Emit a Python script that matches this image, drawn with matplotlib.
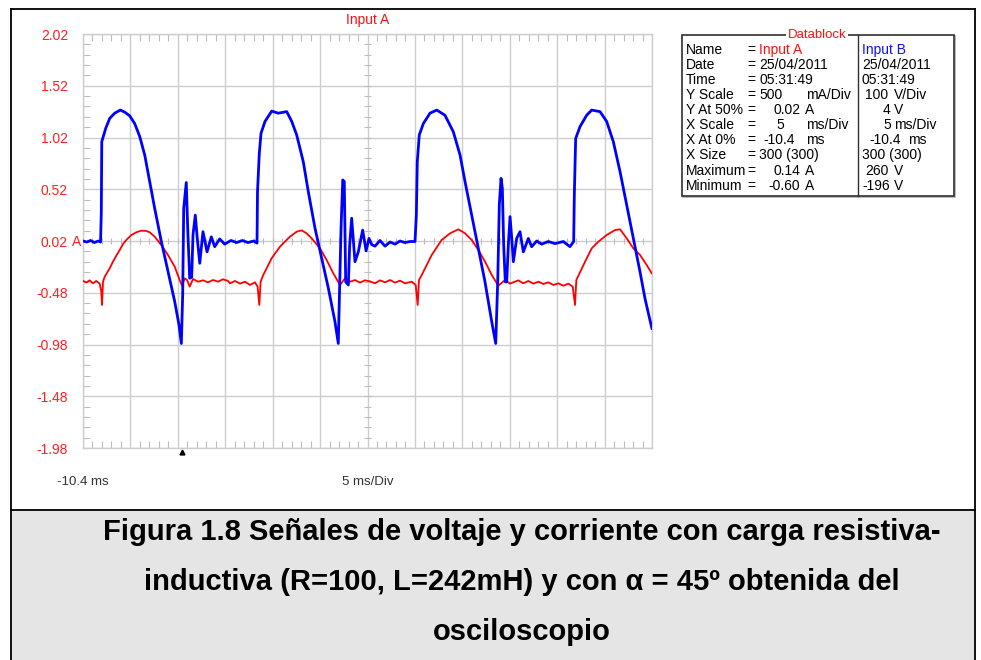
import matplotlib
matplotlib.use("Agg")
import matplotlib.pyplot as plt
from matplotlib.patches import Rectangle
import numpy as np

W, H, DPI = 981, 660, 100
plt.rcParams['font.family'] = ['Liberation Sans', 'DejaVu Sans']

# Input B : voltage (V), time in ms
volt_t = [-10.4, -10.0, -9.6, -9.2, -8.8, -8.55, -8.47, -8.42, -8.2, -8.0, -7.58, -7.06, -6.47, -6.0,
          -5.48, -4.95, -4.42, -3.89, -3.37, -2.84, -2.14, -1.44, -0.73, -0.28, -0.03, 0.11, 0.22,
          0.49, 0.64, 0.85, 1.06, 1.2, 1.44, 1.65, 1.91, 2.25, 2.68, 3.13, 3.49, 4.01, 4.54, 5.2,
          5.8, 6.4, 7.0, 7.6, 7.95, 8.0, 8.19, 8.37, 8.79, 9.5, 10.19, 11.08, 11.61, 12.13, 12.83,
          13.36, 14.06, 14.77, 15.47, 16.17, 16.52, 16.81, 16.99, 17.15, 17.3, 17.58, 17.72, 17.93,
          18.28, 18.63, 19.09, 19.45, 19.76, 20.05, 20.39, 20.92, 21.45, 21.97, 22.5, 23.03, 23.55,
          24.1, 24.61, 24.75, 24.85, 25.06, 25.49, 26.19, 26.9, 27.77, 28.65, 29.36, 29.88, 30.59,
          31.28, 31.99, 32.7, 33.12, 33.33, 33.5, 33.68, 33.82, 33.96, 34.13, 34.28, 34.45, 34.63,
          34.81, 34.98, 35.33, 35.68, 36.03, 36.56, 36.91, 37.44, 37.97, 38.66, 39.37, 40.25, 40.95,
          41.34, 41.41, 41.55, 42.01, 42.71, 43.24, 44.12, 44.82, 45.52, 46.23, 46.93, 47.63, 48.33,
          48.86, 49.46, 49.6]
volt_v = [4, 2, 5, 1, 4, 2, 60, 196, 210, 222, 241, 251, 257, 253,
          246, 231, 206, 170, 119, 67, 3, -55, -113, -158, -194, -100, 67,
          117, 29, -68, -66, 16, 54, 9, -39, 22, -17, 12, -7, 8, -2, 5,
          1, 5, 1, 4, 0, 99, 173, 212, 235, 255, 251, 254, 235, 209, 157,
          99, 29, -29, -87, -152, -194, 29, 122, 119, -75, -81, -4, 48,
          -36, -17, 25, -15, 9, -3, -6, 5, -6, 2, -2, 4, 1,
          3, 3, 54, 157, 209, 231, 251, 257, 247, 215, 170, 119, 54,
          -10, -75, -152, -194, -75, 74, 125, 106, -4, -75, -75, -4, 51,
          9, -36, 9, 22, -17, 9, -7, 4, -2, 3, -1, 3, -7,
          3, 93, 202, 225, 247, 257, 254, 235, 196, 138, 74, 9, -55,
          -107, -155, -165]

# Input A : current (A), time in ms
curr_t = [-10.4, -10.05, -9.7, -9.35, -9.0, -8.64, -8.47, -8.4, -8.29, -8.11, -7.59, -7.24, -6.89,
          -6.53, -6.18, -5.83, -5.3, -4.78, -4.25, -3.72, -3.37, -2.84, -2.14, -1.44, -0.73, -0.21,
          0.04, 0.32, 0.57, 0.85, 1.2, 1.73, 2.25, 2.78, 3.31, 3.84, 4.36, 4.89, 5.1, 5.62, 6.15,
          6.68, 7.21, 7.73, 8.01, 8.19, 8.33, 8.61, 9.49, 10.37, 11.42, 12.13, 12.65, 13.18, 13.71,
          14.59, 15.29, 15.99, 16.7, 17.22, 17.75, 18.28, 18.81, 19.33, 19.86, 20.39, 20.92, 21.45,
          21.98, 22.5, 23.03, 23.56, 24.26, 24.68, 24.89, 25.03, 25.32, 26.37, 27.42, 28.3, 29.18,
          29.89, 30.59, 31.29, 32.0, 32.7, 33.4, 34.1, 34.63, 34.98, 35.51, 36.03, 36.56, 37.09,
          37.62, 38.14, 38.67, 39.2, 39.72, 40.25, 40.78, 41.24, 41.48, 41.62, 42.54, 43.24, 43.94,
          44.82, 45.7, 46.23, 46.93, 47.63, 48.34, 49.04, 49.57]
curr_a = [-0.366, -0.380, -0.360, -0.389, -0.366, -0.392, -0.470, -0.598, -0.373, -0.325, -0.244, -0.180, -0.122,
          -0.067, -0.009, 0.030, 0.078, 0.104, 0.120, 0.117, 0.104, 0.062, -0.019, -0.115, -0.228, -0.357,
          -0.412, -0.341, -0.357, -0.421, -0.347, -0.373, -0.360, -0.379, -0.357, -0.373, -0.350, -0.366, -0.389, -0.366, -0.392,
          -0.373, -0.405, -0.379, -0.421, -0.598, -0.373, -0.308, -0.147, -0.035, 0.062, 0.110, 0.123, 0.094, 0.046,
          -0.051, -0.164, -0.292, -0.405, -0.341, -0.373, -0.357, -0.382, -0.360, -0.370, -0.389, -0.360, -0.379,
          -0.357, -0.382, -0.363, -0.389, -0.373, -0.405, -0.598, -0.357, -0.308, -0.115, 0.030, 0.094, 0.133,
          0.094, 0.030, -0.067, -0.180, -0.308, -0.412, -0.357, -0.392, -0.379, -0.360, -0.389, -0.366, -0.392,
          -0.373, -0.395, -0.379, -0.405, -0.389, -0.412, -0.392, -0.421, -0.598, -0.357, -0.180, -0.051, 0.013,
          0.078, 0.126, 0.133, 0.046, -0.051, -0.115, -0.212, -0.292]

# scope settings
x_at_0 = -10.4        # ms
x_scale = 5           # ms/Div
x_divs = 12
a_scale = 0.5         # A/Div
a_at_50 = 0.02        # A
b_scale = 100         # V/Div
b_at_50 = 4           # V
y_divs = 8
trigger_t = 0.0

# datablock
db_labels = ["Name", "Date", "Time", "Y Scale", "Y At 50%", "X Scale", "X At 0%", "X Size", "Maximum", "Minimum"]
db_a_values = ["Input A", "25/04/2011", "05:31:49", "500", "0.02", "5", "-10.4", "300 (300)", "0.14", "-0.60"]
db_a_units = ["", "", "", "mA/Div", "A", "ms/Div", "ms", "", "A", "A"]
db_b_values = ["Input B", "25/04/2011", "05:31:49", "100", "4", "5", "-10.4", "300 (300)", "260", "-196"]
db_b_units = ["", "", "", "V/Div", "V", "ms/Div", "ms", "", "V", "V"]

caption_lines = ["Figura 1.8 Señales de voltaje y corriente con carga resistiva-",
                 "inductiva (R=100, L=242mH) y con α = 45º obtenida del",
                 "osciloscopio"]

# ---------------- layout ----------------
fig = plt.figure(figsize=(W / DPI, H / DPI), dpi=DPI)
bg = fig.add_axes([0, 0, 1, 1], zorder=0)
bg.set_xlim(0, W)
bg.set_ylim(H, 0)
bg.axis('off')

# outer frame and caption box
bg.add_patch(Rectangle((11, 510), 964, 160, facecolor='#e5e5e5', edgecolor='none'))
for xs, ys in [([11, 11], [9, 660]), ([975, 975], [9, 660]), ([11, 975], [9, 9]), ([11, 975], [510, 510])]:
    bg.plot(xs, ys, color='black', lw=1.3, solid_capstyle='projecting')

for i, line in enumerate(caption_lines):
    bg.text(522, 532 + 50 * i, line, ha='center', va='center', fontsize=21,
            fontweight='bold', color='black')

# datablock
bx0, by0, bx1, by1 = 681.5, 34.5, 953.5, 195.5
bg.add_patch(Rectangle((bx0 + 1.5, by0 + 1.5), bx1 - bx0, by1 - by0, facecolor='none',
                       edgecolor='#b0b0b0', lw=1.2))
bg.add_patch(Rectangle((bx0, by0), bx1 - bx0, by1 - by0, facecolor='white',
                       edgecolor='#303030', lw=1.2))
bg.plot([857.5, 857.5], [by0, by1], color='#303030', lw=1.0)
bg.text(817, by0, "Datablock", color='#ff1010', fontsize=9.5, ha='center', va='center',
        bbox=dict(facecolor='white', edgecolor='none', pad=1.5))
a_x = [759, 759, 759, 759, 774, 776, 763, 759, 774, 768]
au_x = [0, 0, 0, 806, 805, 806, 806, 0, 805, 805]
b_x = [862, 862, 862, 865, 883, 883, 869, 862, 865, 862]
bu_x = [0, 0, 0, 894, 894, 894, 908, 0, 894, 894]
fs_db = 10
for i in range(len(db_labels)):
    yy = 50 + 15.07 * i
    bg.text(686, yy, db_labels[i], fontsize=fs_db, va='center', color='black')
    bg.text(747, yy, "=", fontsize=fs_db, va='center', color='black')
    bg.text(a_x[i], yy, db_a_values[i], fontsize=fs_db, va='center',
            color='#ff1010' if i == 0 else 'black')
    if db_a_units[i]:
        bg.text(au_x[i], yy, db_a_units[i], fontsize=fs_db, va='center', color='black')
    bg.text(b_x[i], yy, db_b_values[i], fontsize=fs_db, va='center',
            color='#1010ff' if i == 0 else 'black')
    if db_b_units[i]:
        bg.text(bu_x[i], yy, db_b_units[i], fontsize=fs_db, va='center', color='black')

# scope screen
L, R, T, B = 83, 652, 34, 448
ax = fig.add_axes([L / W, 1 - B / H, (R - L) / W, (B - T) / H], zorder=2)
xmin = x_at_0
xmax = x_at_0 + x_scale * x_divs
ymin = a_at_50 - a_scale * y_divs / 2
ymax = a_at_50 + a_scale * y_divs / 2
ax.set_xlim(xmin, xmax)
ax.set_ylim(ymin, ymax)
grid_c = '#cdcdcd'
ax.set_xticks(xmin + x_scale * np.arange(x_divs + 1))
ax.set_xticks(xmin + (x_scale / 5) * np.arange(x_divs * 5 + 1), minor=True)
yt = ymin + a_scale * np.arange(y_divs + 1)
ax.set_yticks(yt)
ax.set_yticks(ymin + (a_scale / 5) * np.arange(y_divs * 5 + 1), minor=True)
ax.set_yticklabels([f"{v:.2f}" for v in yt])
ax.tick_params(axis='x', which='major', labelbottom=False, length=0)
ax.tick_params(axis='y', which='major', length=0, pad=10.8, labelsize=10, labelcolor='#ff2020')
ax.tick_params(which='minor', direction='in', length=5, width=0.8, color='#bdbdbd',
               top=True, right=True, bottom=True, left=True)
ax.grid(which='major', color=grid_c, lw=1.0)
for s in ax.spines.values():
    s.set_color(grid_c)
    s.set_linewidth(1.0)

# centre-cross ticks
xc = (xmin + xmax) / 2
yc = a_at_50
ax.vlines(xmin + (x_scale / 5) * np.arange(x_divs * 5 + 1), yc - 0.03, yc + 0.03, color='#bdbdbd', lw=0.8)
ax.hlines(ymin + (a_scale / 5) * np.arange(y_divs * 5 + 1), xc - 0.32, xc + 0.32, color='#bdbdbd', lw=0.8)

ax.plot(curr_t, curr_a, color='#ff0000', lw=1.3, zorder=3)

ax2 = ax.twinx()
ax2.set_ylim(b_at_50 - b_scale * y_divs / 2, b_at_50 + b_scale * y_divs / 2)
ax2.plot(volt_t, volt_v, color='#0000ff', lw=2.0, zorder=4)
ax2.set_axis_off()

ax.plot([trigger_t], [ymin - 0.035], marker='^', ms=3.5, color='black', clip_on=False, zorder=5)

bg.text(72, 242, "A", fontsize=10, color='#ff2020', va='center', ha='left')
ax.text(0.0, -34 / (B - T), f"{x_at_0} ms", transform=ax.transAxes, ha='center', va='center',
        fontsize=9.5, color='#333333')
ax.text(0.5, -34 / (B - T), f"{x_scale} ms/Div", transform=ax.transAxes, ha='center', va='center',
        fontsize=9.5, color='#333333')
ax.text(0.5, 1 + 14 / (B - T), "Input A", transform=ax.transAxes, ha='center', va='center',
        fontsize=10, color='#ff1010')

fig.savefig("out.png", dpi=DPI)
